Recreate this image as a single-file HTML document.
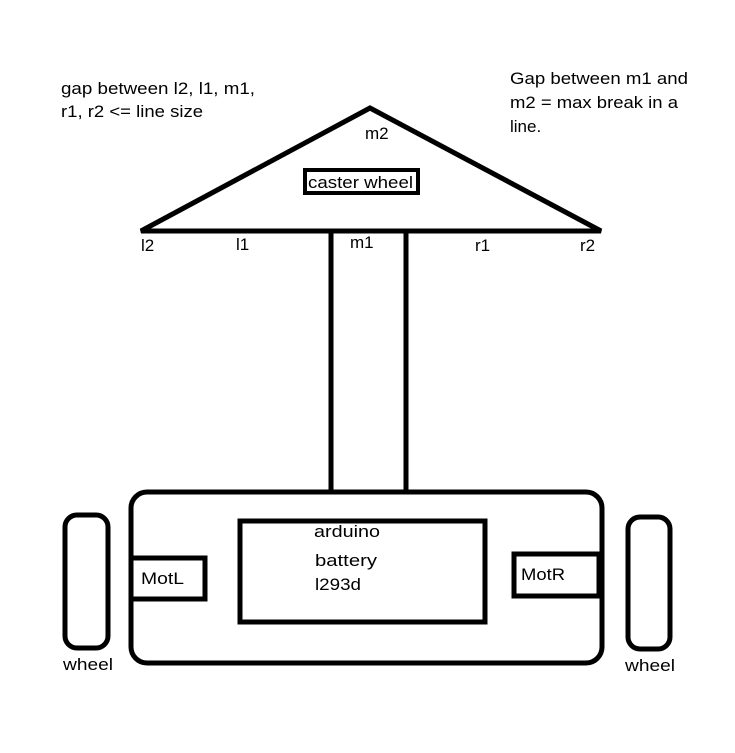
<!DOCTYPE html>
<html><head><meta charset="utf-8"><style>
html,body{margin:0;padding:0;background:#fff;}
svg{display:block;}
text{font-family:"Liberation Sans",sans-serif;font-size:17px;fill:#000;}
</style></head><body>
<svg width="735" height="753" viewBox="0 0 735 753" xmlns="http://www.w3.org/2000/svg">
<rect width="735" height="753" fill="#fff"/>
<g fill="none" stroke="#000" stroke-width="5">
<polygon points="370,108 141,231 601,231" stroke-linejoin="miter"/>
<rect x="305" y="170" width="113" height="23" stroke-width="4"/>
<line x1="331" y1="232" x2="331" y2="491"/>
<line x1="406" y1="232" x2="406" y2="491"/>
<rect x="131" y="492" width="471" height="171" rx="16"/>
<rect x="240" y="521" width="245" height="101"/>
<rect x="131" y="558" width="74" height="41"/>
<rect x="514" y="554" width="85" height="42"/>
<rect x="65" y="515" width="43" height="133" rx="12"/>
<rect x="628" y="517" width="42" height="132" rx="12"/>
</g>
<text x="61" y="94" textLength="194" lengthAdjust="spacingAndGlyphs">gap between l2, l1, m1,</text>
<text x="61" y="117" textLength="142" lengthAdjust="spacingAndGlyphs">r1, r2 &lt;= line size</text>
<text x="510" y="84" textLength="178" lengthAdjust="spacingAndGlyphs">Gap between m1 and</text>
<text x="510" y="108" textLength="168" lengthAdjust="spacingAndGlyphs">m2 = max break in a</text>
<text x="510" y="132">line.</text>
<text x="365" y="139">m2</text>
<text x="308" y="188" textLength="105" lengthAdjust="spacingAndGlyphs">caster wheel</text>
<text x="141" y="251">l2</text>
<text x="236" y="250">l1</text>
<text x="350" y="248">m1</text>
<text x="475" y="251">r1</text>
<text x="580" y="251">r2</text>
<text x="314" y="537" textLength="66" lengthAdjust="spacingAndGlyphs">arduino</text>
<text x="315" y="566" textLength="62" lengthAdjust="spacingAndGlyphs">battery</text>
<text x="315" y="590" textLength="46" lengthAdjust="spacingAndGlyphs">l293d</text>
<text x="141" y="584" textLength="43" lengthAdjust="spacingAndGlyphs">MotL</text>
<text x="521" y="580" textLength="44" lengthAdjust="spacingAndGlyphs">MotR</text>
<text x="63" y="670" textLength="50" lengthAdjust="spacingAndGlyphs">wheel</text>
<text x="625" y="671" textLength="50" lengthAdjust="spacingAndGlyphs">wheel</text>
</svg>
</body></html>
